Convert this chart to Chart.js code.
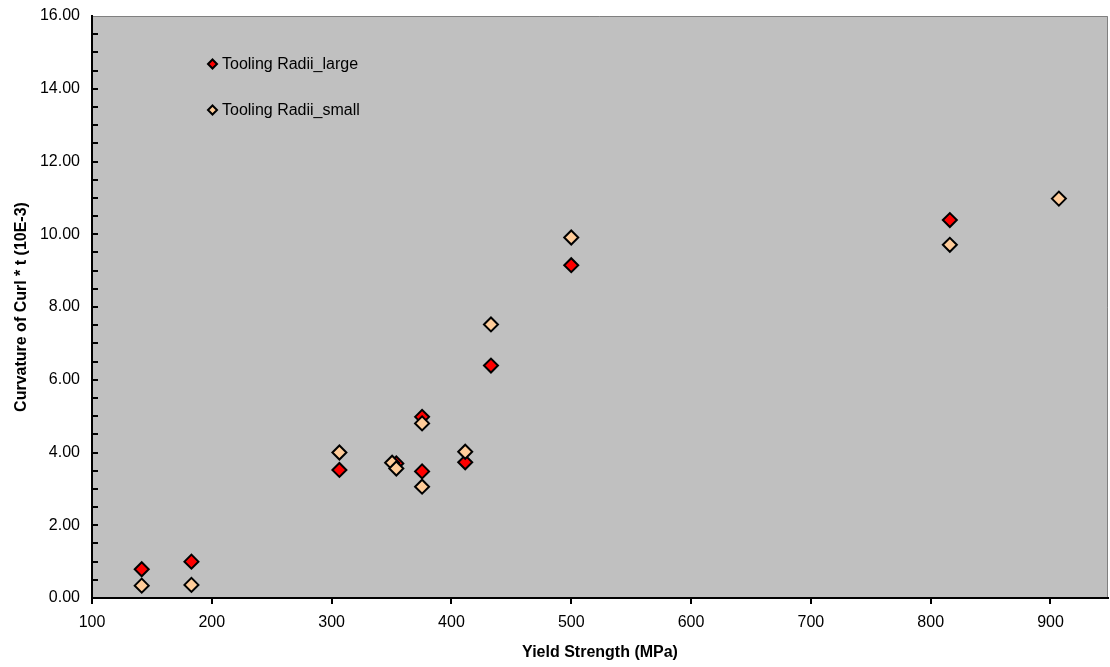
<!DOCTYPE html>
<html>
<head>
<meta charset="utf-8">
<script src="https://cdn.jsdelivr.net/npm/chart.js@4/dist/chart.umd.min.js"></script>
<style>
  html, body { margin: 0; padding: 0; background: #fff; overflow: hidden; }
  #wrap { width: 1110px; height: 667px; overflow: hidden; }
</style>
</head>
<body>
<div id="wrap"><canvas id="curlChart" width="1117" height="667"></canvas></div>
<script>
// values
const largeX = [141.5, 183, 306.5, 354, 375.5, 375.5, 411.5, 433, 500, 816];
const largeY = [0.79, 1.00, 3.52, 3.70, 4.98, 3.48, 3.73, 6.39, 9.15, 10.39];
const smallX = [141.5, 183, 306.5, 350.5, 354, 375.5, 375.5, 411.5, 433, 500, 816, 907];
const smallY = [0.34, 0.36, 4.00, 3.72, 3.56, 4.80, 3.06, 4.02, 7.52, 9.91, 9.71, 10.98];
const xTicks = [100, 200, 300, 400, 500, 600, 700, 800, 900];
const yTicks = [0, 2, 4, 6, 8, 10, 12, 14, 16];
const seriesNames = ['Tooling Radii_large', 'Tooling Radii_small'];

const FONT = 'Arial, "Liberation Sans", sans-serif';

function toPoints(xs, ys) {
    return xs.map((x, i) => ({ x: x, y: ys[i] }));
}

// grey plot background + grey top/right frame
const plotBg = {
    id: 'plotBg',
    beforeDraw(chart) {
        const { ctx, chartArea: a } = chart;
        ctx.save();
        ctx.fillStyle = '#C0C0C0';
        ctx.fillRect(a.left, a.top, a.right - a.left, a.bottom - a.top);
        ctx.strokeStyle = '#808080';
        ctx.lineWidth = 1;
        ctx.beginPath();
        ctx.moveTo(a.left, a.top + 0.5);
        ctx.lineTo(a.right - 0.5, a.top + 0.5);
        ctx.lineTo(a.right - 0.5, a.bottom);
        ctx.stroke();
        ctx.restore();
    }
};

// y tick marks drawn inward, every 0.5
const innerTicks = {
    id: 'innerTicks',
    afterDraw(chart) {
        const { ctx, chartArea: a } = chart;
        const ys = chart.scales.y;
        ctx.save();
        ctx.strokeStyle = '#000';
        ctx.lineWidth = 2;
        for (let v = 0.5; v < 16; v += 0.5) {
            const py = Math.round(ys.getPixelForValue(v));
            ctx.beginPath();
            ctx.moveTo(a.left, py);
            ctx.lineTo(a.left + 6, py);
            ctx.stroke();
        }
        ctx.restore();
    }
};

// legend placed inside the plot area like the original
const inlineLegend = {
    id: 'inlineLegend',
    afterDatasetsDraw(chart) {
        const { ctx } = chart;
        const rows = [64, 110];
        ctx.save();
        chart.data.datasets.forEach((ds, i) => {
            const y = rows[i];
            ctx.fillStyle = ds.backgroundColor;
            ctx.strokeStyle = '#000';
            ctx.lineWidth = 2;
            ctx.beginPath();
            ctx.moveTo(208, y);
            ctx.lineTo(212.5, y - 4.5);
            ctx.lineTo(217, y);
            ctx.lineTo(212.5, y + 4.5);
            ctx.closePath();
            ctx.fill();
            ctx.stroke();
            ctx.fillStyle = '#000';
            ctx.font = '16px ' + FONT;
            ctx.textBaseline = 'middle';
            ctx.fillText(ds.label, 222, y + 1);
        });
        ctx.restore();
    }
};

const ctx = document.getElementById('curlChart').getContext('2d');
const chart = new Chart(ctx, {
    type: 'scatter',
    data: {
        datasets: [{
            label: seriesNames[0],
            data: toPoints(largeX, largeY),
            backgroundColor: '#FF0000',
            borderColor: '#000000',
            borderWidth: 2,
            pointStyle: 'rectRot',
            pointRadius: 7,
            order: 2
        }, {
            label: seriesNames[1],
            data: toPoints(smallX, smallY),
            backgroundColor: '#FFCC99',
            borderColor: '#000000',
            borderWidth: 2,
            pointStyle: 'rectRot',
            pointRadius: 7,
            order: 1
        }]
    },
    options: {
        responsive: false,
        animation: false,
        devicePixelRatio: 1,
        layout: { padding: { top: 16, right: 2, left: 0, bottom: 0 } },
        plugins: { legend: { display: false }, tooltip: { enabled: false } },
        scales: {
            x: {
                type: 'linear', min: 100, max: 948,
                afterBuildTicks: s => { s.ticks = xTicks.map(v => ({ value: v })); },
                afterFit: s => { s.height = 69; s.paddingLeft = 0; s.paddingRight = 0; },
                grid: { drawOnChartArea: false, drawTicks: true, tickLength: 6, color: '#000', lineWidth: 2 },
                border: { display: true, color: '#000', width: 2 },
                ticks: { color: '#000', font: { family: FONT, size: 16 }, padding: 9, maxRotation: 0 },
                title: { display: true, text: 'Yield Strength (MPa)', color: '#000', font: { family: FONT, size: 16, weight: 'bold' }, padding: { top: 0, bottom: 5 } }
            },
            y: {
                type: 'linear', min: 0, max: 16,
                afterBuildTicks: s => { s.ticks = yTicks.map(v => ({ value: v })); },
                afterFit: s => { s.width = 92; s.paddingTop = 0; s.paddingBottom = 0; },
                grid: { display: false, drawTicks: false },
                border: { display: true, color: '#000', width: 2 },
                ticks: { color: '#000', font: { family: FONT, size: 16 }, padding: 12, callback: v => Number(v).toFixed(2) },
                title: { display: true, text: 'Curvature of Curl * t (10E-3)', color: '#000', font: { family: FONT, size: 16, weight: 'bold' }, padding: { top: 12, bottom: 0 } }
            }
        }
    },
    plugins: [plotBg, innerTicks, inlineLegend]
});
</script>
</body>
</html>
